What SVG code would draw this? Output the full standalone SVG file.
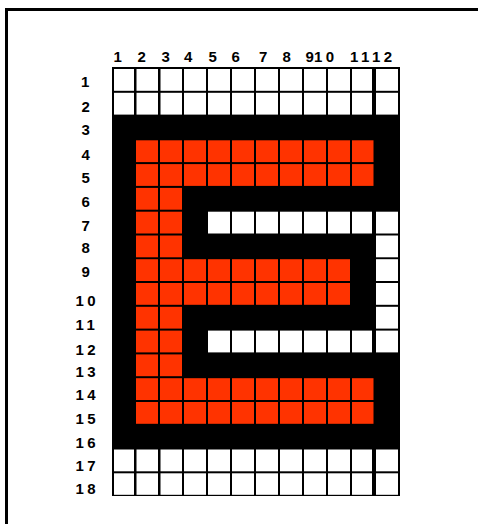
<svg xmlns="http://www.w3.org/2000/svg" width="478" height="524" viewBox="0 0 478 524">
<style>
.w{fill:#ffffff}
.r{fill:#ff3300}
.lbl{font-family:"Liberation Sans",Arial,sans-serif;font-weight:bold;font-size:15px;fill:#000}
.ls{letter-spacing:3.5px}
</style>
<rect x="0" y="0" width="478" height="524" fill="#ffffff"/>
<g id="frame">
<rect x="5" y="8" width="473" height="3" fill="#000"/>
<rect x="5" y="8" width="3" height="516" fill="#000"/>
</g>
<g id="grid">
<rect x="112" y="67" width="288" height="429" fill="#000"/>
</g>
<g id="col-labels" class="lbl">
<text x="113.4" y="61.5">1</text>
<text x="137.5" y="61.5">2</text>
<text x="161.5" y="61.5">3</text>
<text x="184" y="61.5">4</text>
<text x="208.5" y="61.5">5</text>
<text x="231.5" y="61.5">6</text>
<text x="259" y="61.5">7</text>
<text x="282.5" y="61.5">8</text>
<text x="305.5" y="61.5">9</text>
<text class="ls" x="314" y="61.5">10</text>
<text class="ls" x="350" y="61.5">11</text>
<text class="ls" x="372" y="61.5">12</text>
</g>
<g id="row-labels" class="lbl">
<text x="81.1" y="87">1</text>
<text x="81.5" y="111.5">2</text>
<text x="81.5" y="135">3</text>
<text x="81.5" y="159.5">4</text>
<text x="81.5" y="183">5</text>
<text x="81.5" y="206.5">6</text>
<text x="81.5" y="230.5">7</text>
<text x="81.5" y="253">8</text>
<text x="81.5" y="276.5">9</text>
<text class="ls" x="75.4" y="306">10</text>
<text class="ls" x="75.4" y="330">11</text>
<text class="ls" x="75.4" y="355">12</text>
<text class="ls" x="75.4" y="377">13</text>
<text class="ls" x="75.4" y="400">14</text>
<text class="ls" x="75.4" y="424">15</text>
<text class="ls" x="75.4" y="448">16</text>
<text class="ls" x="75.4" y="471">17</text>
<text class="ls" x="75.4" y="494">18</text>
</g>
<g id="row1" class="w">
<rect x="114" y="69" width="20" height="21.8"/><rect x="136.5" y="69" width="21.5" height="21.8"/><rect x="160.5" y="69" width="21.5" height="21.8"/><rect x="184" y="69" width="22" height="21.8"/><rect x="208" y="69" width="22" height="21.8"/><rect x="232" y="69" width="22" height="21.8"/><rect x="256" y="69" width="22" height="21.8"/><rect x="280" y="69" width="22" height="21.8"/><rect x="304" y="69" width="22" height="21.8"/><rect x="328" y="69" width="22" height="21.8"/><rect x="352" y="69" width="20" height="21.8"/><rect x="376" y="69" width="22" height="21.8"/>
</g>
<g id="row2" class="w">
<rect x="114" y="92.8" width="20" height="21.8"/><rect x="136.5" y="92.8" width="21.5" height="21.8"/><rect x="160.5" y="92.8" width="21.5" height="21.8"/><rect x="184" y="92.8" width="22" height="21.8"/><rect x="208" y="92.8" width="22" height="21.8"/><rect x="232" y="92.8" width="22" height="21.8"/><rect x="256" y="92.8" width="22" height="21.8"/><rect x="280" y="92.8" width="22" height="21.8"/><rect x="304" y="92.8" width="22" height="21.8"/><rect x="328" y="92.8" width="22" height="21.8"/><rect x="352" y="92.8" width="20" height="21.8"/><rect x="376" y="92.8" width="22" height="21.8"/>
</g>
<g id="row4" class="r">
<rect x="136" y="140.3" width="22" height="21.8"/><rect x="160" y="140.3" width="22" height="21.8"/><rect x="184" y="140.3" width="22" height="21.8"/><rect x="208" y="140.3" width="22" height="21.8"/><rect x="232" y="140.3" width="22" height="21.8"/><rect x="256" y="140.3" width="22" height="21.8"/><rect x="280" y="140.3" width="22" height="21.8"/><rect x="304" y="140.3" width="22" height="21.8"/><rect x="328" y="140.3" width="22" height="21.8"/><rect x="352" y="140.3" width="21.5" height="21.8"/>
</g>
<g id="row5" class="r">
<rect x="136" y="164.1" width="22" height="21.8"/><rect x="160" y="164.1" width="22" height="21.8"/><rect x="184" y="164.1" width="22" height="21.8"/><rect x="208" y="164.1" width="22" height="21.8"/><rect x="232" y="164.1" width="22" height="21.8"/><rect x="256" y="164.1" width="22" height="21.8"/><rect x="280" y="164.1" width="22" height="21.8"/><rect x="304" y="164.1" width="22" height="21.8"/><rect x="328" y="164.1" width="22" height="21.8"/><rect x="352" y="164.1" width="21.5" height="21.8"/>
</g>
<g id="row6" class="r">
<rect x="136" y="187.9" width="22" height="21.8"/><rect x="160" y="187.9" width="22" height="21.8"/>
</g>
<g id="row7">
<rect class="r" x="136" y="211.7" width="22" height="21.8"/><rect class="r" x="160" y="211.7" width="22" height="21.8"/>
<rect class="w" x="208" y="211.7" width="22" height="21.8"/><rect class="w" x="232" y="211.7" width="22" height="21.8"/><rect class="w" x="256" y="211.7" width="22" height="21.8"/><rect class="w" x="280" y="211.7" width="22" height="21.8"/><rect class="w" x="304" y="211.7" width="22" height="21.8"/><rect class="w" x="328" y="211.7" width="22" height="21.8"/><rect class="w" x="352" y="211.7" width="20" height="21.8"/><rect class="w" x="376" y="211.7" width="22" height="21.8"/>
</g>
<g id="row8">
<rect class="r" x="136" y="235.5" width="22" height="21.8"/><rect class="r" x="160" y="235.5" width="22" height="21.8"/>
<rect class="w" x="376" y="235.5" width="22" height="21.8"/>
</g>
<g id="row9">
<rect class="r" x="136" y="259.2" width="22" height="21.8"/><rect class="r" x="160" y="259.2" width="22" height="21.8"/><rect class="r" x="184" y="259.2" width="22" height="21.8"/><rect class="r" x="208" y="259.2" width="22" height="21.8"/><rect class="r" x="232" y="259.2" width="22" height="21.8"/><rect class="r" x="256" y="259.2" width="22" height="21.8"/><rect class="r" x="280" y="259.2" width="22" height="21.8"/><rect class="r" x="304" y="259.2" width="22" height="21.8"/><rect class="r" x="328" y="259.2" width="22" height="21.8"/>
<rect class="w" x="376" y="259.2" width="22" height="21.8"/>
</g>
<g id="row10">
<rect class="r" x="136" y="283" width="22" height="21.8"/><rect class="r" x="160" y="283" width="22" height="21.8"/><rect class="r" x="184" y="283" width="22" height="21.8"/><rect class="r" x="208" y="283" width="22" height="21.8"/><rect class="r" x="232" y="283" width="22" height="21.8"/><rect class="r" x="256" y="283" width="22" height="21.8"/><rect class="r" x="280" y="283" width="22" height="21.8"/><rect class="r" x="304" y="283" width="22" height="21.8"/><rect class="r" x="328" y="283" width="22" height="21.8"/>
<rect class="w" x="376" y="283" width="22" height="21.8"/>
</g>
<g id="row11">
<rect class="r" x="136" y="306.8" width="22" height="21.8"/><rect class="r" x="160" y="306.8" width="22" height="21.8"/>
<rect class="w" x="376" y="306.8" width="22" height="21.8"/>
</g>
<g id="row12">
<rect class="r" x="136" y="330.6" width="22" height="21.8"/><rect class="r" x="160" y="330.6" width="22" height="21.8"/>
<rect class="w" x="208" y="330.6" width="22" height="21.8"/><rect class="w" x="232" y="330.6" width="22" height="21.8"/><rect class="w" x="256" y="330.6" width="22" height="21.8"/><rect class="w" x="280" y="330.6" width="22" height="21.8"/><rect class="w" x="304" y="330.6" width="22" height="21.8"/><rect class="w" x="328" y="330.6" width="22" height="21.8"/><rect class="w" x="352" y="330.6" width="20" height="21.8"/><rect class="w" x="376" y="330.6" width="22" height="21.8"/>
</g>
<g id="row13" class="r">
<rect x="136" y="354.4" width="22" height="21.8"/><rect x="160" y="354.4" width="22" height="21.8"/>
</g>
<g id="row14" class="r">
<rect x="136" y="378.2" width="22" height="21.8"/><rect x="160" y="378.2" width="22" height="21.8"/><rect x="184" y="378.2" width="22" height="21.8"/><rect x="208" y="378.2" width="22" height="21.8"/><rect x="232" y="378.2" width="22" height="21.8"/><rect x="256" y="378.2" width="22" height="21.8"/><rect x="280" y="378.2" width="22" height="21.8"/><rect x="304" y="378.2" width="22" height="21.8"/><rect x="328" y="378.2" width="22" height="21.8"/><rect x="352" y="378.2" width="21.5" height="21.8"/>
</g>
<g id="row15" class="r">
<rect x="136" y="402" width="22" height="21.8"/><rect x="160" y="402" width="22" height="21.8"/><rect x="184" y="402" width="22" height="21.8"/><rect x="208" y="402" width="22" height="21.8"/><rect x="232" y="402" width="22" height="21.8"/><rect x="256" y="402" width="22" height="21.8"/><rect x="280" y="402" width="22" height="21.8"/><rect x="304" y="402" width="22" height="21.8"/><rect x="328" y="402" width="22" height="21.8"/><rect x="352" y="402" width="21.5" height="21.8"/>
</g>
<g id="row17" class="w">
<rect x="114" y="449.5" width="20" height="21.8"/><rect x="136.5" y="449.5" width="21.5" height="21.8"/><rect x="160.5" y="449.5" width="21.5" height="21.8"/><rect x="184" y="449.5" width="22" height="21.8"/><rect x="208" y="449.5" width="22" height="21.8"/><rect x="232" y="449.5" width="22" height="21.8"/><rect x="256" y="449.5" width="22" height="21.8"/><rect x="280" y="449.5" width="22" height="21.8"/><rect x="304" y="449.5" width="22" height="21.8"/><rect x="328" y="449.5" width="22" height="21.8"/><rect x="352" y="449.5" width="20" height="21.8"/><rect x="376" y="449.5" width="22" height="21.8"/>
</g>
<g id="row18" class="w">
<rect x="114" y="473.3" width="20" height="21.5"/><rect x="136.5" y="473.3" width="21.5" height="21.5"/><rect x="160.5" y="473.3" width="21.5" height="21.5"/><rect x="184" y="473.3" width="22" height="21.5"/><rect x="208" y="473.3" width="22" height="21.5"/><rect x="232" y="473.3" width="22" height="21.5"/><rect x="256" y="473.3" width="22" height="21.5"/><rect x="280" y="473.3" width="22" height="21.5"/><rect x="304" y="473.3" width="22" height="21.5"/><rect x="328" y="473.3" width="22" height="21.5"/><rect x="352" y="473.3" width="20" height="21.5"/><rect x="376" y="473.3" width="22" height="21.5"/>
</g>
</svg>
